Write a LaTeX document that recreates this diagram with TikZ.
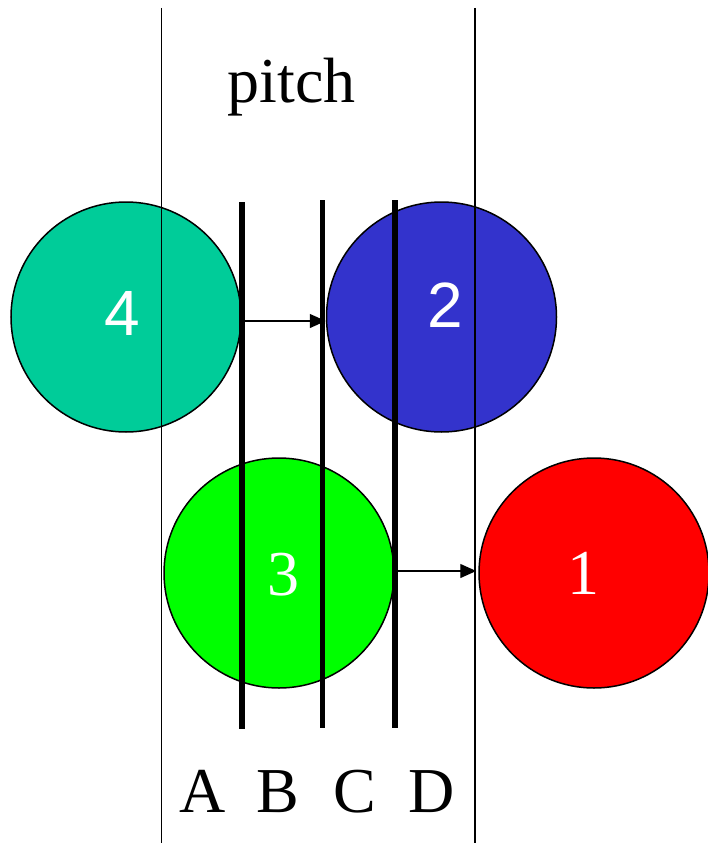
\documentclass[tikz,border=0pt]{standalone}
\usepackage{fontspec}
\setmainfont{Liberation Serif}
\newfontfamily\arialfont{Liberation Sans}
\newfontfamily\timesfont{Liberation Serif}
\newfontfamily\timeswhite[Color=FFFFFF]{Liberation Serif}
\usetikzlibrary{arrows.meta}
\definecolor{cteal}{RGB}{0,204,153}
\definecolor{cblue}{RGB}{51,51,204}
\definecolor{cgreen}{RGB}{0,255,0}
\definecolor{cred}{RGB}{255,0,0}
\tikzset{
  disc/.style={circle, draw=black, line width=1.5pt, minimum size=230pt, inner sep=0pt},
  thinrule/.style={line width=1.5pt},
  thickrule/.style={line width=5.5pt},
  mover/.style={line width=1.3pt, -{Triangle[length=16pt,width=14pt]}},
  numsans/.style={text=white, inner sep=0pt, font=\arialfont\fontsize{64}{70}\selectfont},
  numserif/.style={inner sep=0pt, anchor=base, font=\timeswhite\fontsize{64}{70}\selectfont},
  lbl/.style={inner sep=0pt, anchor=base, font=\timesfont\fontsize{64}{70}\selectfont}
}
\begin{document}
\begin{tikzpicture}[x=1pt, y=-1pt]
\useasboundingbox (0,0) rectangle (707,843);
% discs
\node[disc, fill=cteal] (c4) at (126,317) {};
\node[disc, fill=cblue] (c2) at (441.5,317) {};
\node[disc, fill=cgreen] (c3) at (279,573) {};
\node[disc, fill=cred] (c1) at (594,573) {};
% pitch boundaries
\draw[thinrule] (161.5,8) -- (161.5,843);
\draw[thinrule] (475,8) -- (475,843);
% positions A-D
\draw[thickrule] (242,202) -- (242,729);
\draw[thickrule] (322.5,200) -- (322.5,728);
\draw[thickrule] (395,200) -- (395,728);
% moves
\draw[mover] ([yshift=-4pt]c4.east) -- ([yshift=-4pt]c2.west);
\draw[mover] ([yshift=2pt]c3.east) -- ([yshift=2pt,xshift=-2pt]c1.west);
% numbers
\node[numsans] (n4) at (122.5,313) {4};
\node[numsans] (n2) at (445,305.5) {2};
\node[numserif] (n3) at (283,595) {3};
\node[numserif] (n1) at (583,594) {1};
% texts
\node[lbl] (pitch) at (291.5,102) {pitch};
\node[lbl] (la) at (203,812) {A};
\node[lbl] (lb) at (278,812) {B};
\node[lbl] (lc) at (355,812) {C};
\node[lbl] (ld) at (432,812) {D};
\end{tikzpicture}
\end{document}
